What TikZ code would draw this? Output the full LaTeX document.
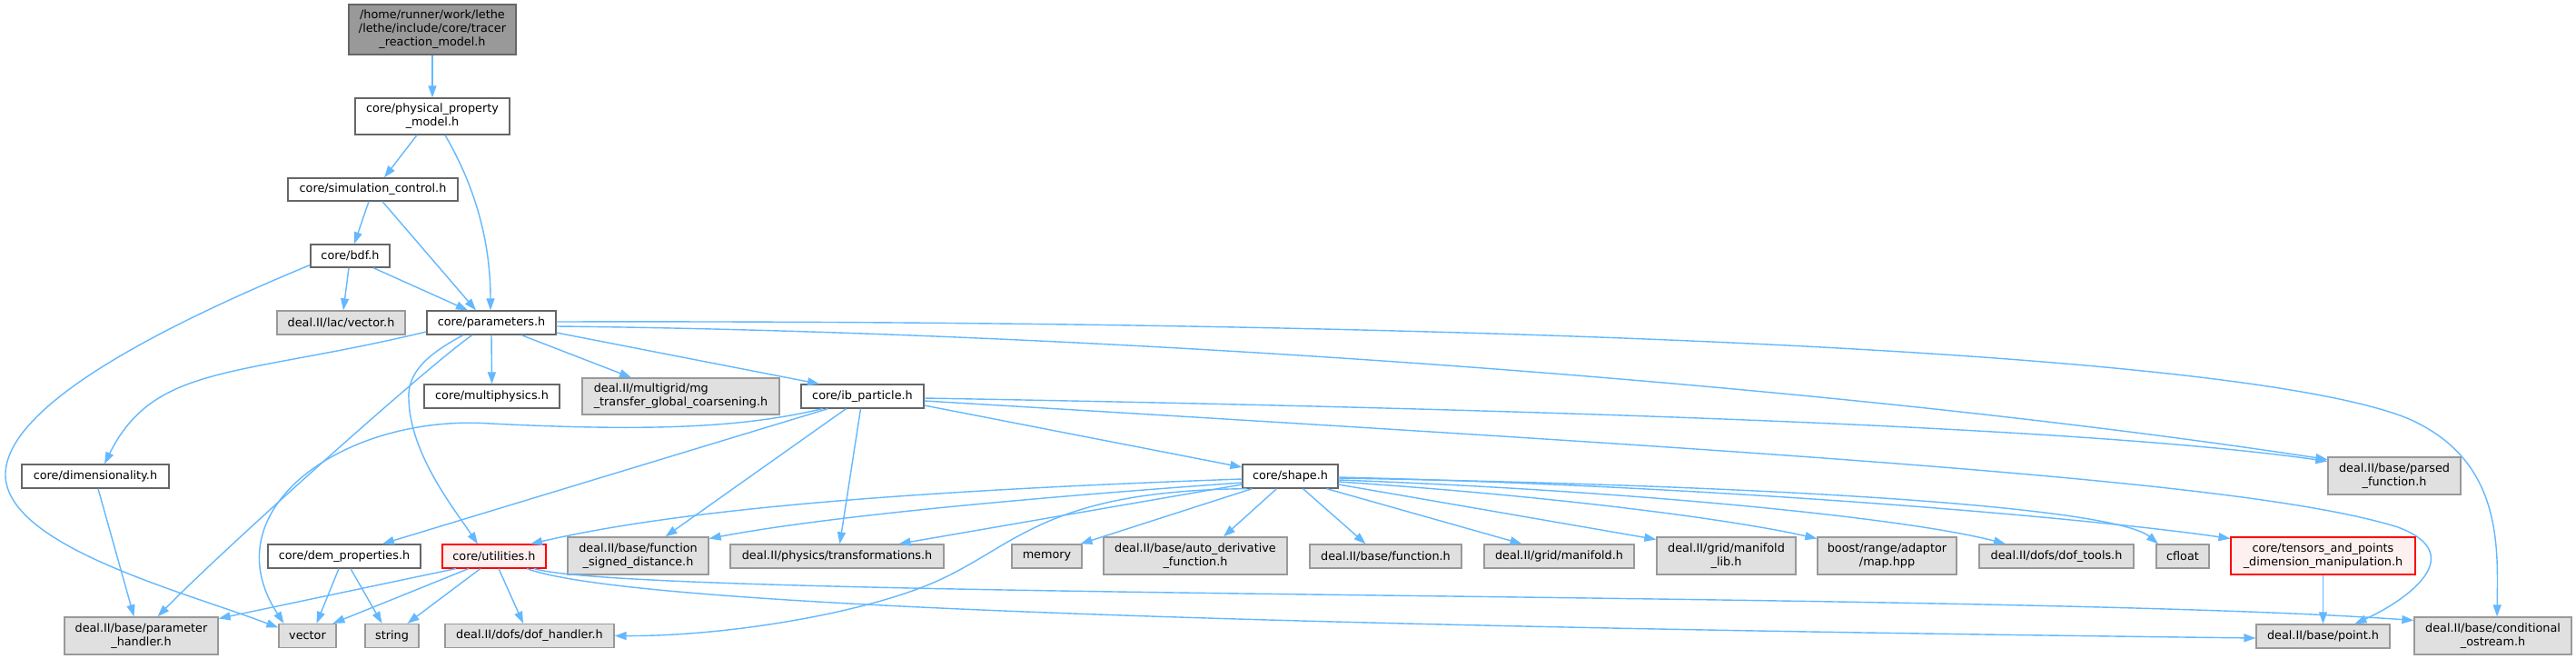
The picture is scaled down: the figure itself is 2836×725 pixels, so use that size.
\documentclass[tikz,border=0pt]{standalone}
\usepackage{fontspec}
\setmainfont{DejaVu Sans}
\usetikzlibrary{arrows.meta}
\definecolor{edgec}{HTML}{63B8FF}
\definecolor{nodeborder}{HTML}{666666}
\definecolor{grayborder}{HTML}{999999}
\definecolor{grayfill}{HTML}{E0E0E0}
\definecolor{topfill}{HTML}{999999}
\definecolor{redfill}{HTML}{FFF0F0}
\definecolor{redborder}{HTML}{FF0000}
\begin{document}
\begin{tikzpicture}[x=1pt,y=-1pt,
  box/.style={draw=nodeborder, fill=white, line width=1.3pt, inner sep=0pt, align=center,
    font=\fontsize{12.8}{15}\selectfont, text=black},
  sysbox/.style={box, draw=grayborder, fill=grayfill},
  redbox/.style={box, draw=redborder, fill=redfill, line width=1.1pt},
  topbox/.style={box, fill=topfill},
  dep/.style={draw=edgec, line width=1.4pt, -{Triangle[length=13pt,width=9pt]}},
]
\useasboundingbox (0,0) rectangle (2836,725);
\fill[white] (0,0) rectangle (2836,725);

% nodes
\node[topbox, minimum width=184pt, minimum height=55pt] (top) at (476,32.5) {/home/runner/work/lethe\\/lethe/include/core/tracer\\\_reaction\_model.h};
\node[box, minimum width=170pt, minimum height=40pt] (phys) at (476,128) {core/physical\_property\\\_model.h};
\node[box, minimum width=187pt, minimum height=25pt] (sim) at (410.5,208.5) {core/simulation\_control.h};
\node[box, minimum width=87pt, minimum height=25pt] (bdf) at (385.5,281.5) {core/bdf.h};
\node[sysbox, minimum width=141pt, minimum height=26pt] (lacvec) at (375.5,355) {deal.II/lac/vector.h};
\node[box, minimum width=142pt, minimum height=26pt] (params) at (541,355) {core/parameters.h};
\node[box, minimum width=149pt, minimum height=26pt] (multi) at (541.5,436) {core/multiphysics.h};
\node[sysbox, minimum width=217pt, minimum height=40pt, align=left] (mg) at (749.5,436) {deal.II/multigrid/mg\\\_transfer\_global\_coarsening.h};
\node[box, minimum width=135pt, minimum height=26pt] (ibp) at (949.5,436) {core/ib\_particle.h};
\node[box, minimum width=162pt, minimum height=26pt] (dimen) at (105,524) {core/dimensionality.h};
\node[box, minimum width=105pt, minimum height=26pt] (shape) at (1420.5,524) {core/shape.h};
\node[sysbox, minimum width=146pt, minimum height=41pt] (parsed) at (2636,523.5) {deal.II/base/parsed\\\_function.h};
\node[box, minimum width=168pt, minimum height=26pt] (dem) at (379,612) {core/dem\_properties.h};
\node[redbox, minimum width=114pt, minimum height=26pt] (util) at (544,612) {core/utilities.h};
\node[sysbox, minimum width=155pt, minimum height=41pt] (fsd) at (702.5,611.5) {deal.II/base/function\\\_signed\_distance.h};
\node[sysbox, minimum width=235pt, minimum height=26pt] (transf) at (921.5,612) {deal.II/physics/transformations.h};
\node[sysbox, minimum width=77pt, minimum height=26pt] (memory) at (1152.5,612) {memory};
\node[sysbox, minimum width=202pt, minimum height=41pt] (autod) at (1316,611.5) {deal.II/base/auto\_derivative\\\_function.h};
\node[sysbox, minimum width=167pt, minimum height=26pt] (func) at (1525.5,612) {deal.II/base/function.h};
\node[sysbox, minimum width=165pt, minimum height=26pt] (manif) at (1716.5,612) {deal.II/grid/manifold.h};
\node[sysbox, minimum width=153pt, minimum height=41pt] (maniflib) at (1900.5,611.5) {deal.II/grid/manifold\\\_lib.h};
\node[sysbox, minimum width=153pt, minimum height=41pt] (boost) at (2077.5,611.5) {boost/range/adaptor\\/map.hpp};
\node[sysbox, minimum width=170pt, minimum height=26pt] (doftools) at (2264,612) {deal.II/dofs/dof\_tools.h};
\node[sysbox, minimum width=58pt, minimum height=26pt] (cfloat) at (2403,612) {cfloat};
\node[redbox, minimum width=203pt, minimum height=41pt] (tensors) at (2557.5,611.5) {core/tensors\_and\_points\\\_dimension\_manipulation.h};
\node[sysbox, minimum width=169pt, minimum height=41pt] (phandler) at (155.5,699.5) {deal.II/base/parameter\\\_handler.h};
\node[sysbox, minimum width=63pt, minimum height=26pt] (vector) at (338.5,699.5) {vector};
\node[sysbox, minimum width=59pt, minimum height=26pt] (string) at (431.5,699.5) {string};
\node[sysbox, minimum width=186pt, minimum height=26pt] (dofh) at (583,699.5) {deal.II/dofs/dof\_handler.h};
\node[sysbox, minimum width=147pt, minimum height=26pt] (point) at (2557.5,700) {deal.II/base/point.h};
\node[sysbox, minimum width=173pt, minimum height=41pt] (cond) at (2744.5,699.5) {deal.II/base/conditional\\\_ostream.h};

% edges
\draw[dep] (top.south) -- (phys.north);
\draw[dep] ([xshift=-17pt]phys.south) -- ([xshift=12.5pt]sim.north);
\draw[dep] ([xshift=14pt]phys.south) .. controls (520,200) and (540,260) .. ([xshift=-1pt]params.north);
\draw[dep] ([xshift=-4.5pt]sim.south) -- ([xshift=4.5pt]bdf.north);
\draw[dep] ([xshift=10.5pt]sim.south) -- ([xshift=-17pt]params.north);
\draw[dep] ([xshift=-1.5pt]bdf.south) -- ([xshift=2.5pt]lacvec.north);
\draw[dep] ([xshift=25.5pt]bdf.south) -- ([xshift=-26pt]params.north);
\draw[dep] ([yshift=-10pt]bdf.west) .. controls (200,350) and (10,440) .. (6,520) .. controls (3,600) and (200,650) .. ([yshift=9pt]vector.west);

\draw[dep] ([yshift=-10pt]params.west) .. controls (260,415) and (170,400) .. ([xshift=10pt]dimen.north);
\draw[dep] ([xshift=-21pt]params.south) .. controls (480,395) and (250,600) .. ([xshift=18pt]phandler.north);
\draw[dep] ([xshift=-31pt]params.south) .. controls (470,390) and (448,410) .. (450,440) .. controls (452,500) and (500,560) .. ([xshift=-18pt]util.north);
\draw[dep] (params.south) -- (multi.north);
\draw[dep] ([xshift=33pt]params.south) -- ([xshift=-54.5pt]mg.north);
\draw[dep] ([yshift=-11pt]params.east) -- ([xshift=-47.5pt]ibp.north);
\draw[dep] ([yshift=1pt]params.east) .. controls (1500,352) and (2450,380) .. (2650,460) .. controls (2755,505) and (2750,600) .. ([xshift=4.5pt]cond.north);
\draw[dep] ([yshift=-4pt]params.east) .. controls (1200,365) and (2000,420) .. ([yshift=18pt]parsed.west);

\draw[dep] ([yshift=-2pt]ibp.east) .. controls (1700,450) and (2300,470) .. ([yshift=16pt]parsed.west);
\draw[dep] ([yshift=-5pt]ibp.east) .. controls (2000,500) and (2480,530) .. (2640,580) .. controls (2720,610) and (2650,660) .. ([xshift=35pt]point.north);
\draw[dep] ([yshift=-10pt]ibp.east) -- ([yshift=10pt]shape.west);
\draw[dep] ([xshift=-44pt]ibp.south) .. controls (820,470) and (720,475) .. (540,466) .. controls (380,455) and (230,560) .. ([xshift=-26pt]vector.north);
\draw[dep] ([xshift=-38pt]ibp.south) -- ([xshift=42pt]dem.north);
\draw[dep] ([xshift=-18pt]ibp.south) -- ([xshift=30pt]fsd.north);
\draw[dep] ([xshift=-2pt]ibp.south) -- ([xshift=3pt]transf.north);

\draw[dep] ([yshift=-3pt]shape.west) .. controls (1000,540) and (750,560) .. ([xshift=40pt]util.north);
\draw[dep] ([yshift=-7pt]shape.west) .. controls (1100,550) and (900,570) .. ([yshift=19pt]fsd.east);
\draw[dep] ([yshift=-9pt]shape.west) -- ([xshift=68pt]transf.north);
\draw[dep] ([xshift=-48pt]shape.south) .. controls (1150,540) and (1120,600) .. (1030,640) .. controls (950,675) and (800,700) .. (dofh.east);
\draw[dep] ([xshift=-42pt]shape.south) -- ([xshift=37pt]memory.north);
\draw[dep] ([xshift=-15pt]shape.south) -- ([xshift=31pt]autod.north);
\draw[dep] ([xshift=14pt]shape.south) -- ([xshift=-22pt]func.north);
\draw[dep] ([xshift=40pt]shape.south) -- ([xshift=-41pt]manif.north);
\draw[dep] ([yshift=-9pt]shape.east) -- ([yshift=18pt]maniflib.west);
\draw[dep] ([yshift=-6pt]shape.east) .. controls (1700,545) and (1900,570) .. ([yshift=19pt]boost.west);
\draw[dep] ([yshift=-4pt]shape.east) .. controls (1800,540) and (2100,570) .. ([xshift=-56pt]doftools.north);
\draw[dep] ([yshift=-2pt]shape.east) .. controls (2000,535) and (2330,560) .. ([xshift=-27pt]cfloat.north);
\draw[dep] ([yshift=-1pt]shape.east) .. controls (1900,535) and (2300,570) .. ([yshift=19pt]tensors.west);

\draw[dep] (tensors.south) -- (point.north);

\draw[dep] ([xshift=-42pt]util.south) -- ([yshift=19pt]phandler.east);
\draw[dep] ([xshift=-28pt]util.south) -- ([xshift=28pt]vector.north);
\draw[dep] ([xshift=-15pt]util.south) -- ([xshift=17pt]string.north);
\draw[dep] ([xshift=5pt]util.south) -- ([xshift=-7pt]dofh.north);
\draw[dep] ([xshift=36pt]util.south) .. controls (700,670) and (1500,690) .. ([yshift=-2pt]point.west);
\draw[dep] ([xshift=44pt]util.south) .. controls (700,660) and (2200,650) .. ([yshift=17pt]cond.west);

\draw[dep] ([xshift=-6pt]dem.south) -- ([xshift=10pt]vector.north);
\draw[dep] ([xshift=7pt]dem.south) -- ([xshift=-11pt]string.north);
\draw[dep] ([xshift=3pt]dimen.south) -- ([xshift=-8pt]phandler.north);
\end{tikzpicture}
\end{document}
